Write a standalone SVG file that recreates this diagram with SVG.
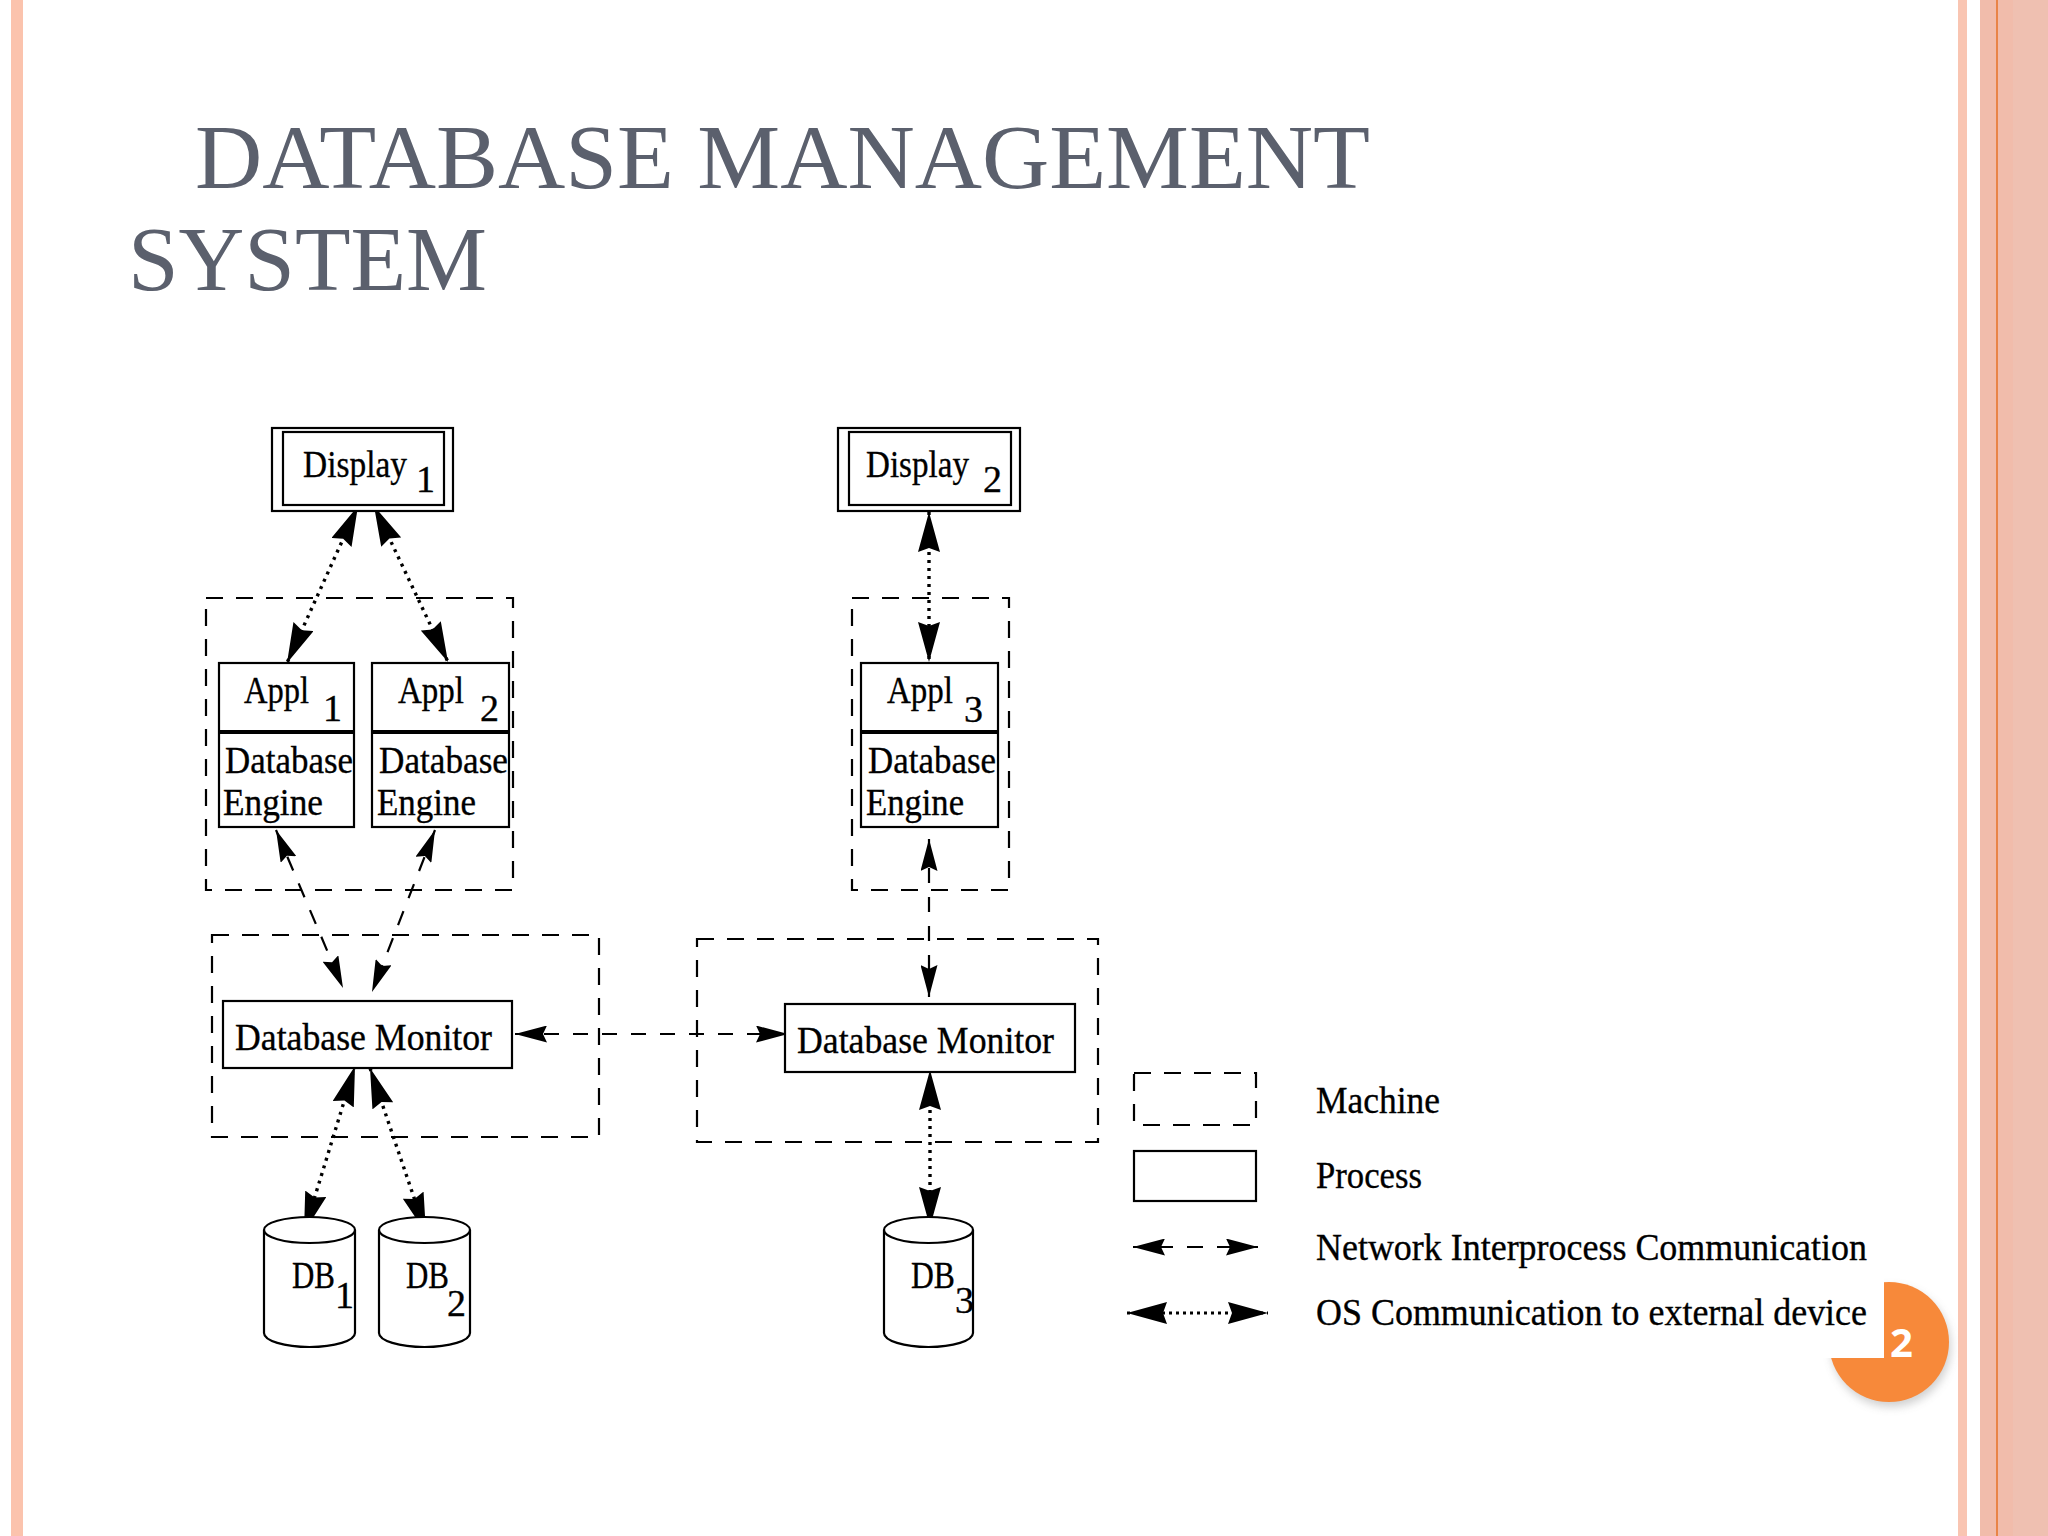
<svg xmlns="http://www.w3.org/2000/svg" width="2048" height="1536" viewBox="0 0 2048 1536">
<style>
.bg{fill:#ffffff}
.title{font-family:"Liberation Serif","Times New Roman",serif;font-size:92px;fill:#5B606D}
.lbl{font-family:"Liberation Serif","Times New Roman",serif;font-size:38px;fill:#000;stroke:#000;stroke-width:0.35}
.box{fill:#fff;stroke:#000;stroke-width:2.2}
.machine{fill:none;stroke:#000;stroke-width:2.2;stroke-dasharray:17 13}
.div{stroke:#000;stroke-width:4}
.dot{fill:none;stroke:#000;stroke-width:3.4;stroke-dasharray:3 5;marker-start:url(#osHead);marker-end:url(#osHead)}
.net{fill:none;stroke:#000;stroke-width:2.2;stroke-dasharray:15 14;marker-start:url(#netHead);marker-end:url(#netHead)}
.cyl{fill:#fff;stroke:#000;stroke-width:2.2}
.pg{font-family:"Open Sans","Liberation Sans",sans-serif;font-weight:bold;font-size:40px;fill:#fff}
</style>
<defs>
<marker id="osHead" viewBox="0 -11 40 22" refX="40" refY="0" markerWidth="40" markerHeight="22" markerUnits="userSpaceOnUse" orient="auto-start-reverse">
<path d="M0,-11 L40,0 L0,11 L4,0 Z" fill="#000"/>
</marker>
<marker id="netHead" viewBox="0 -8.5 32 17" refX="32" refY="0" markerWidth="32" markerHeight="17" markerUnits="userSpaceOnUse" orient="auto-start-reverse">
<path d="M0,-8.5 L32,0 L0,8.5 L4,0 Z" fill="#000"/>
</marker>
<filter id="sh" x="-50%" y="-50%" width="200%" height="200%">
<feGaussianBlur stdDeviation="4"/>
</filter>
</defs>

<rect class="bg" x="0" y="0" width="2048" height="1536"/>

<g id="frame">
<rect x="11" y="0" width="12" height="1536" fill="#FBC3AD"/>
<rect x="1958" y="0" width="9" height="1536" fill="#F9C5B2"/>
<rect x="1980" y="0" width="68" height="1536" fill="#F1BCAB"/>
<rect x="2013" y="0" width="35" height="1536" fill="#EFC0B1"/>
<rect x="1996" y="0" width="2" height="1536" fill="#E98447"/>
</g>

<g id="pagenum">
<circle cx="1891" cy="1347" r="60" fill="#9a9a9a" opacity="0.45" filter="url(#sh)"/>
<circle cx="1889" cy="1342" r="60" fill="#F7893A"/>
<rect x="1820" y="1270" width="64" height="88" fill="#fff"/>
<text class="pg" x="1890" y="1357">2</text>
</g>

<g id="title">
<text class="title" x="195" y="188" textLength="1175" lengthAdjust="spacingAndGlyphs">DATABASE MANAGEMENT</text>
<text class="title" x="128" y="290" textLength="359" lengthAdjust="spacingAndGlyphs">SYSTEM</text>
</g>

<g id="machines">
<rect id="machine1" class="machine" x="206" y="598" width="307" height="292"/>
<rect id="machine2" class="machine" x="212" y="935" width="387" height="202"/>
<rect id="machine3" class="machine" x="852" y="598" width="157" height="292"/>
<rect id="machine4" class="machine" x="697" y="939" width="401" height="203"/>
</g>

<g id="connectors">
<path class="dot" d="M358,506 L287,663"/>
<path class="dot" d="M374,506 L448,662"/>
<path class="dot" d="M929,512 L929,662"/>
<path class="net" d="M276,830 L343,988"/>
<path class="net" d="M435,830 L372,992"/>
<path class="net" d="M929,839 L929,997"/>
<path class="net" d="M515,1034 L788,1034"/>
<path class="dot" d="M355,1066 L304,1232"/>
<path class="dot" d="M370,1068 L426,1233"/>
<path class="dot" d="M930,1070 L930,1227"/>
</g>

<g id="display1">
<rect class="box" x="272" y="428" width="181" height="83"/>
<rect class="box" x="283" y="432" width="161" height="73"/>
<text class="lbl" x="303" y="477"><tspan textLength="104" lengthAdjust="spacingAndGlyphs">Display</tspan><tspan x="416" dy="15">1</tspan></text>
</g>

<g id="display2">
<rect class="box" x="838" y="428" width="182" height="83"/>
<rect class="box" x="849" y="432" width="162" height="73"/>
<text class="lbl" x="866" y="477"><tspan textLength="103" lengthAdjust="spacingAndGlyphs">Display</tspan><tspan x="983" dy="15">2</tspan></text>
</g>

<g id="appl1">
<rect class="box" x="219" y="663" width="135" height="164"/>
<line class="div" x1="219" y1="732" x2="354" y2="732"/>
<text class="lbl" x="244" y="703"><tspan textLength="65" lengthAdjust="spacingAndGlyphs">Appl</tspan><tspan x="323" dy="18">1</tspan></text>
<text class="lbl" x="225" y="773" textLength="128" lengthAdjust="spacingAndGlyphs">Database</text>
<text class="lbl" x="223" y="815" textLength="100" lengthAdjust="spacingAndGlyphs">Engine</text>
</g>

<g id="appl2">
<rect class="box" x="372" y="663" width="137" height="164"/>
<line class="div" x1="372" y1="732" x2="509" y2="732"/>
<text class="lbl" x="398" y="703"><tspan textLength="66" lengthAdjust="spacingAndGlyphs">Appl</tspan><tspan x="480" dy="18">2</tspan></text>
<text class="lbl" x="379" y="773" textLength="129" lengthAdjust="spacingAndGlyphs">Database</text>
<text class="lbl" x="377" y="815" textLength="99" lengthAdjust="spacingAndGlyphs">Engine</text>
</g>

<g id="appl3">
<rect class="box" x="861" y="663" width="137" height="164"/>
<line class="div" x1="861" y1="732" x2="998" y2="732"/>
<text class="lbl" x="887" y="703"><tspan textLength="66" lengthAdjust="spacingAndGlyphs">Appl</tspan><tspan x="964" dy="19">3</tspan></text>
<text class="lbl" x="868" y="773" textLength="128" lengthAdjust="spacingAndGlyphs">Database</text>
<text class="lbl" x="866" y="815" textLength="98" lengthAdjust="spacingAndGlyphs">Engine</text>
</g>

<g id="monitor1">
<rect class="box" x="223" y="1001" width="289" height="67"/>
<text class="lbl" x="235" y="1050" textLength="257" lengthAdjust="spacingAndGlyphs">Database Monitor</text>
</g>

<g id="monitor2">
<rect class="box" x="785" y="1004" width="290" height="68"/>
<text class="lbl" x="797" y="1053" textLength="257" lengthAdjust="spacingAndGlyphs">Database Monitor</text>
</g>

<g id="db1">
<path class="cyl" d="M264,1230 L264,1333 A45.5,14 0 0 0 355,1333 L355,1230"/>
<ellipse class="cyl" cx="309.5" cy="1230" rx="45.5" ry="13"/>
<text class="lbl" x="292" y="1288"><tspan textLength="43" lengthAdjust="spacingAndGlyphs">DB</tspan><tspan x="335" dy="20">1</tspan></text>
</g>

<g id="db2">
<path class="cyl" d="M379,1230 L379,1333 A45.5,14 0 0 0 470,1333 L470,1230"/>
<ellipse class="cyl" cx="424.5" cy="1230" rx="45.5" ry="13"/>
<text class="lbl" x="406" y="1288"><tspan textLength="43" lengthAdjust="spacingAndGlyphs">DB</tspan><tspan x="447" dy="28">2</tspan></text>
</g>

<g id="db3">
<path class="cyl" d="M884,1230 L884,1333 A44.5,14 0 0 0 973,1333 L973,1230"/>
<ellipse class="cyl" cx="928.5" cy="1230" rx="44.5" ry="13"/>
<text class="lbl" x="911" y="1288"><tspan textLength="44" lengthAdjust="spacingAndGlyphs">DB</tspan><tspan x="955" dy="25">3</tspan></text>
</g>

<g id="legend">
<rect class="machine" x="1134" y="1073" width="122" height="52"/>
<rect class="box" x="1134" y="1151" width="122" height="50"/>
<path d="M1133,1247 L1258,1247" fill="none" stroke="#000" stroke-width="2.2" stroke-dasharray="40 14 16 14 41" marker-start="url(#netHead)" marker-end="url(#netHead)"/>
<path d="M1127,1313 L1268,1313" fill="none" stroke="#000" stroke-width="3" stroke-dasharray="3 4" marker-start="url(#osHead)" marker-end="url(#osHead)"/>
<text class="lbl" x="1316" y="1113" textLength="124" lengthAdjust="spacingAndGlyphs">Machine</text>
<text class="lbl" x="1316" y="1188" textLength="106" lengthAdjust="spacingAndGlyphs">Process</text>
<text class="lbl" x="1316" y="1260" textLength="551" lengthAdjust="spacingAndGlyphs">Network Interprocess Communication</text>
<text class="lbl" x="1316" y="1325" textLength="551" lengthAdjust="spacingAndGlyphs">OS Communication to external device</text>
</g>
</svg>
